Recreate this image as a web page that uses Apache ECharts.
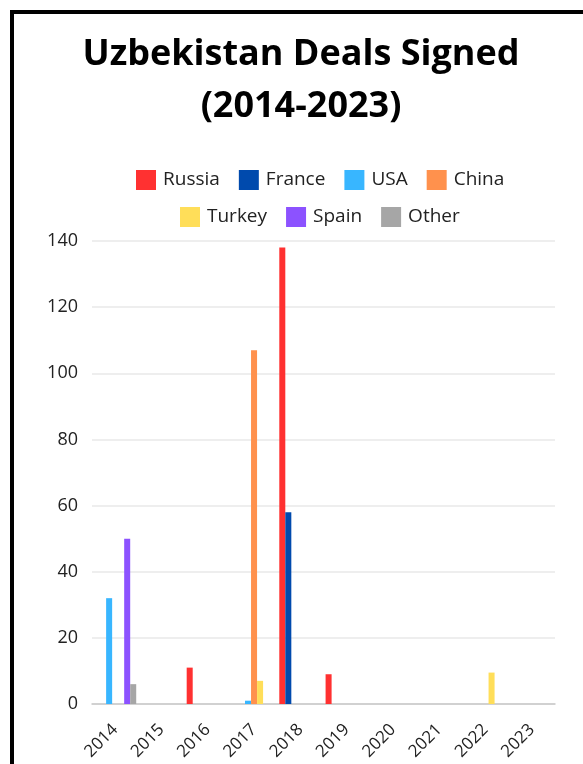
<!DOCTYPE html>
<html>
<head>
<meta charset="utf-8">
<script src="https://cdn.jsdelivr.net/npm/echarts@6/dist/echarts.min.js"></script>
<style>
html,body{margin:0;padding:0;background:#fff;}
#chart{width:583px;height:764px;}
</style>
</head>
<body>
<div id="chart"></div>
<script>
const years = ['2014','2015','2016','2017','2018','2019','2020','2021','2022','2023'];
const russia = [0, 0, 11, 0, 138, 9, 0, 0, 0, 0];
const france = [0, 0, 0, 0, 58, 0, 0, 0, 0, 0];
const usa    = [32, 0, 0, 1, 0, 0, 0, 0, 0, 0];
const china  = [0, 0, 0, 107, 0, 0, 0, 0, 0, 0];
const turkey = [0, 0, 0, 7, 0, 0, 0, 0, 9.5, 0];
const spain  = [50, 0, 0, 0, 0, 0, 0, 0, 0, 0];
const other  = [6, 0, 0, 0, 0, 0, 0, 0, 0, 0];
const yTicks = [0, 20, 40, 60, 80, 100, 120, 140];

const seriesDefs = [
  {name:'Russia', data:russia, color:'#ff3131'},
  {name:'France', data:france, color:'#004aad'},
  {name:'USA', data:usa, color:'#38b6ff'},
  {name:'China', data:china, color:'#ff914d'},
  {name:'Turkey', data:turkey, color:'#ffde59'},
  {name:'Spain', data:spain, color:'#8c52ff'},
  {name:'Other', data:other, color:'#a6a6a6'}
];

const font = 'Open Sans';
const chart = echarts.init(document.getElementById('chart'));
const legendCommon = {
  itemWidth: 20, itemHeight: 20, itemGap: 19,
  icon: 'rect',
  textStyle: {fontFamily: font, fontSize: 19, color: '#222', padding:[0,0,0,2]},
  selectedMode: false
};
chart.setOption({
  animation: false,
  backgroundColor: '#fff',
  graphic: [{
    type: 'rect',
    shape: {x: 12, y: 12, width: 600, height: 800},
    style: {fill: 'none', stroke: '#000', lineWidth: 4},
    z: 100
  }],
  title: {
    text: 'Uzbekistan Deals Signed\n(2014-2023)',
    left: 296, top: 24, textAlign: 'center',
    textStyle: {fontFamily: font, fontWeight: 'bold', fontSize: 36, lineHeight: 52, color: '#000'}
  },
  legend: [
    Object.assign({data: ['Russia','France','USA','China'], left: 131, top: 165}, legendCommon),
    Object.assign({data: ['Turkey','Spain','Other'], left: 175, top: 202}, legendCommon)
  ],
  grid: {left: 92, right: 28, top: 241, bottom: 60},
  xAxis: {
    type: 'category',
    data: years,
    axisTick: {show: false},
    axisLine: {lineStyle: {color: '#c8c8c8', width: 1.5}},
    axisLabel: {rotate: 45, interval: 0, fontFamily: font, fontSize: 17, color: '#222', margin: 23}
  },
  yAxis: {
    type: 'value',
    min: yTicks[0], max: yTicks[yTicks.length-1], interval: 20,
    axisLine: {show: false},
    axisTick: {show: false},
    splitLine: {lineStyle: {color: '#e8e8e8', width: 1.5}},
    axisLabel: {fontFamily: font, fontSize: 18, color: '#222', margin: 14}
  },
  series: seriesDefs.map(s => ({
    name: s.name, type: 'bar', data: s.data,
    barGap: '0%', barCategoryGap: '9%',
    itemStyle: {color: s.color}
  }))
});
</script>
</body>
</html>
